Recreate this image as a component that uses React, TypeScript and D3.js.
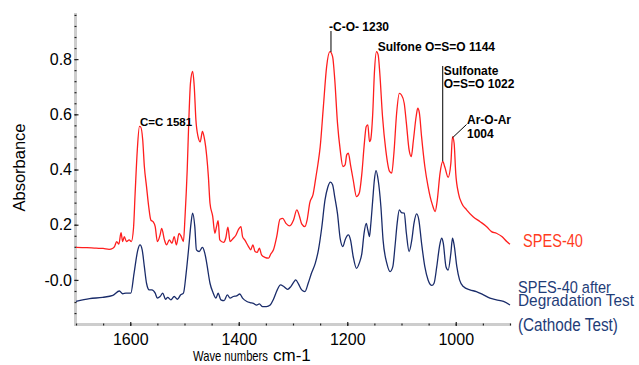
// FTIR spectra of SPES-40 before / after degradation, drawn with D3

import { useEffect, useRef } from 'react'
import * as d3 from 'd3'

const WIDTH = 639
const HEIGHT = 365

// SPES-40 (red)
const redWave = [
  1700, 1680, 1663, 1650, 1639, 1632, 1629, 1625, 1621, 1617, 1614, 1611, 1607, 1602, 1598, 1594, 1591, 1587, 1583, 1581,
  1577, 1574, 1570, 1566, 1562, 1558, 1554, 1550, 1545, 1542, 1537, 1533, 1528, 1523, 1519, 1515, 1510, 1506, 1502, 1499,
  1495, 1492, 1489, 1485, 1482, 1479, 1475, 1471, 1467, 1464, 1461, 1459, 1456, 1453, 1448, 1444, 1441, 1438, 1435, 1428,
  1424, 1420, 1416, 1410, 1405, 1401, 1396, 1393, 1389, 1382, 1378, 1374, 1370, 1366, 1362, 1358, 1352, 1345, 1341, 1336,
  1330, 1324, 1319, 1313, 1306, 1299, 1293, 1288, 1284, 1278, 1274, 1269, 1263, 1258, 1254, 1250, 1244, 1238, 1232, 1227,
  1223, 1218, 1213, 1208, 1204, 1201, 1198, 1194, 1189, 1183, 1178, 1173, 1169, 1165, 1162, 1159, 1157, 1153, 1150, 1146,
  1143, 1140, 1135, 1129, 1122, 1118, 1114, 1109, 1104, 1100, 1095, 1091, 1086, 1082, 1078, 1073, 1070, 1067, 1063, 1057,
  1051, 1047, 1043, 1038, 1034, 1029, 1024, 1020, 1014, 1009, 1006, 1003, 1000, 995, 989, 980, 968, 955, 943, 934,
  925, 915, 906, 900,
]
const redAbs = [
  0.118, 0.117, 0.115, 0.114, 0.111, 0.115, 0.121, 0.139, 0.13, 0.171, 0.139, 0.157, 0.139, 0.145, 0.139, 0.187, 0.314, 0.471, 0.556, 0.555,
  0.507, 0.411, 0.338, 0.266, 0.217, 0.211, 0.193, 0.139, 0.163, 0.187, 0.145, 0.127, 0.145, 0.133, 0.157, 0.127, 0.169, 0.157, 0.139, 0.23,
  0.399, 0.58, 0.713, 0.755, 0.7, 0.58, 0.519, 0.5, 0.538, 0.519, 0.483, 0.447, 0.375, 0.278, 0.23, 0.169, 0.193, 0.215, 0.145, 0.136,
  0.151, 0.191, 0.139, 0.151, 0.163, 0.181, 0.193, 0.157, 0.145, 0.121, 0.109, 0.127, 0.103, 0.1, 0.115, 0.091, 0.082, 0.079, 0.094, 0.109,
  0.157, 0.22, 0.223, 0.205, 0.196, 0.217, 0.254, 0.23, 0.203, 0.193, 0.217, 0.28, 0.31, 0.37, 0.42, 0.48, 0.628, 0.773, 0.827, 0.809,
  0.725, 0.568, 0.471, 0.411, 0.417, 0.453, 0.459, 0.417, 0.362, 0.302, 0.314, 0.387, 0.483, 0.556, 0.562, 0.501, 0.507, 0.604, 0.749, 0.827,
  0.815, 0.749, 0.592, 0.471, 0.393, 0.387, 0.459, 0.604, 0.676, 0.67, 0.64, 0.568, 0.471, 0.447, 0.507, 0.592, 0.622, 0.604, 0.519, 0.411,
  0.338, 0.3, 0.272, 0.248, 0.29, 0.386, 0.429, 0.408, 0.372, 0.423, 0.519, 0.495, 0.386, 0.314, 0.278, 0.254, 0.229, 0.211, 0.193, 0.175,
  0.169, 0.157, 0.139, 0.129,
]

// SPES-40 after degradation test (blue)
const blueWave = [
  1700, 1675, 1651, 1632, 1620, 1614, 1608, 1599, 1593, 1586, 1582, 1578, 1574, 1570, 1565, 1560, 1554, 1550, 1545, 1540,
  1535, 1531, 1525, 1519, 1513, 1507, 1502, 1497, 1492, 1488, 1485, 1481, 1478, 1473, 1467, 1463, 1460, 1458, 1453, 1447,
  1442, 1438, 1433, 1427, 1421, 1416, 1410, 1404, 1398, 1393, 1385, 1379, 1373, 1367, 1362, 1356, 1349, 1342, 1336, 1329,
  1323, 1317, 1310, 1304, 1298, 1295, 1290, 1284, 1278, 1272, 1266, 1259, 1253, 1247, 1241, 1236, 1231, 1227, 1223, 1218,
  1213, 1208, 1204, 1198, 1194, 1189, 1183, 1178, 1173, 1169, 1165, 1162, 1159, 1157, 1153, 1150, 1147, 1143, 1138, 1134,
  1127, 1121, 1116, 1112, 1108, 1104, 1100, 1095, 1091, 1086, 1081, 1077, 1072, 1068, 1063, 1057, 1051, 1044, 1040, 1035,
  1030, 1026, 1023, 1018, 1014, 1009, 1006, 1003, 998, 993, 986, 974, 962, 949, 937, 925, 912, 900,
]
const blueAbs = [
  -0.078, -0.068, -0.063, -0.056, -0.04, -0.05, -0.048, -0.048, 0.024, 0.109, 0.127, 0.109, 0.048, -0.012, -0.036, -0.036, -0.048, -0.066, -0.06, -0.048,
  -0.07, -0.063, -0.072, -0.06, -0.07, -0.054, -0.048, 0.024, 0.121, 0.205, 0.242, 0.193, 0.109, 0.103, 0.118, 0.1, 0.072, 0.048, -0.012, -0.048,
  -0.066, -0.048, -0.072, -0.075, -0.054, -0.066, -0.06, -0.058, -0.051, -0.066, -0.078, -0.082, -0.085, -0.091, -0.087, -0.097, -0.097, -0.091, -0.07, -0.036,
  -0.018, -0.024, -0.034, -0.024, -0.006, 0.0, -0.014, -0.036, -0.042, -0.012, 0.024, 0.06, 0.11, 0.19, 0.29, 0.335, 0.354, 0.345, 0.3, 0.24,
  0.15, 0.121, 0.145, 0.163, 0.145, 0.084, 0.042, 0.06, 0.097, 0.169, 0.205, 0.181, 0.157, 0.193, 0.29, 0.362, 0.396, 0.362, 0.266, 0.145,
  0.06, 0.03, 0.048, 0.121, 0.205, 0.254, 0.244, 0.242, 0.169, 0.103, 0.145, 0.205, 0.239, 0.217, 0.133, 0.048, 0.0, -0.02, -0.012, 0.048,
  0.121, 0.151, 0.133, 0.048, 0.036, 0.097, 0.151, 0.127, 0.048, 0.0, -0.024, -0.036, -0.042, -0.054, -0.066, -0.072, -0.078, -0.091,
]

const yMajor = [0, 0.2, 0.4, 0.6, 0.8]
const xMajor = [1600, 1400, 1200, 1000]

const SANS = '"Liberation Sans", Arial, Helvetica, sans-serif'

const draw = (el: SVGSVGElement) => {
  const svg = d3.select(el)
  svg.selectAll('*').remove()

  const x = d3.scaleLinear().domain([1700, 900]).range([76, 510])
  const y = d3.scaleLinear().domain([-0.156, 0.967]).range([323, 13])

  // Axis bars
  svg.append('line').attr('x1', 75.5).attr('x2', 75.5).attr('y1', 13).attr('y2', 325)
    .style('stroke', '#cdcdcd').style('stroke-width', 3)
  svg.append('line').attr('x1', 74).attr('x2', 511).attr('y1', 324.5).attr('y2', 324.5)
    .style('stroke', '#cdcdcd').style('stroke-width', 3)

  // Y ticks
  const yMinor = d3.range(-3, 25).map(k => +(k * 0.04).toFixed(2))
  svg.append('g').attr('transform', 'translate(74.5,0)')
    .call(d3.axisRight(y).tickValues(yMinor).tickSize(2).tickFormat(() => ''))
  svg.append('g').attr('transform', 'translate(74.5,0)')
    .call(d3.axisRight(y).tickValues(yMajor).tickSize(4).tickFormat(() => ''))
  const yLabels = svg.append('g').attr('transform', 'translate(75,0)')
    .call(d3.axisLeft(y).tickValues(yMajor).tickSize(0).tickPadding(3)
      .tickFormat(d => (+d === 0 ? '-0.0' : d3.format('.1f')(+d))))
  yLabels.selectAll('text').style('font-family', SANS).style('font-size', '16px').style('fill', '#000')

  // X ticks
  const xMinor = d3.range(900, 1701, 50)
  svg.append('g').attr('transform', 'translate(0,325.5)')
    .call(d3.axisTop(x).tickValues(xMinor).tickSize(2).tickFormat(() => ''))
  svg.append('g').attr('transform', 'translate(0,326)')
    .call(d3.axisTop(x).tickValues(xMajor).tickSize(4).tickFormat(() => ''))
  const xLabels = svg.append('g').attr('transform', 'translate(0,324)')
    .call(d3.axisBottom(x).tickValues(xMajor).tickSize(0).tickFormat(d3.format('d')))
  xLabels.selectAll('text').attr('y', 21).attr('dy', 0)
    .style('font-family', SANS).style('font-size', '16px').style('fill', '#000')

  svg.selectAll('.domain').remove()
  svg.selectAll('.tick line').style('stroke', '#222').style('stroke-width', 1.2)

  // Spectra
  const line = (wave: number[], abs: number[]) =>
    d3.line<number>().x(i => x(wave[i])).y(i => y(abs[i])).curve(d3.curveMonotoneX)(d3.range(wave.length))

  svg.append('path').attr('d', line(redWave, redAbs)).style('fill', 'none')
    .style('stroke', '#ff1e1e').style('stroke-width', 1.3)
  svg.append('path').attr('d', line(blueWave, blueAbs)).style('fill', 'none')
    .style('stroke', '#1a2c6a').style('stroke-width', 1.3)

  // Axis titles
  svg.append('text').attr('transform', 'translate(25,167.5) rotate(-90)')
    .attr('text-anchor', 'middle').style('font-family', SANS).style('font-size', '16.5px')
    .text('Absorbance')
  // narrow face is not installed: squeeze the regular one to the measured width
  const squeezed = (parent, tx: number, ty: number, len: number, size: number, txt: string) => {
    const t = parent.append('text').style('font-family', SANS).style('font-size', `${size}px`).text(txt)
    const natural = (t.node() as SVGTextElement).getComputedTextLength() || len
    t.attr('transform', `translate(${tx},${ty}) scale(${len / natural},1)`)
    return t
  }
  squeezed(svg, 193, 361, 75, 14, 'Wave numbers')
  svg.append('text').attr('x', 273).attr('y', 361).style('font-family', SANS)
    .style('font-size', '17px').text('cm-1')

  // Peak annotations
  const ann = svg.append('g').style('font-family', SANS).style('font-size', '12px')
    .style('font-weight', 'bold').style('fill', '#000')
  ann.append('text').attr('x', x(1581) - 0.5).attr('y', 126).style('font-size', '11.5px').text('C=C 1581')

  ann.append('line').attr('x1', x(1230)).attr('x2', x(1230)).attr('y1', 31).attr('y2', y(0.826))
    .style('stroke', '#000').style('stroke-width', 1)
  ann.append('text').attr('x', x(1230) - 2).attr('y', 30.5).text('-C-O- 1230')

  ann.append('text').attr('x', x(1144)).attr('y', 50.5).text('Sulfone O=S=O 1144')

  ann.append('line').attr('x1', x(1024)).attr('x2', x(1024)).attr('y1', 66).attr('y2', y(0.43))
    .style('stroke', '#000').style('stroke-width', 1)
  ann.append('text').attr('x', x(1024) + 1).attr('y', 75).text('Sulfonate')
  ann.append('text').attr('x', x(1024) + 1).attr('y', 87.5).text('O=S=O 1022')

  ann.append('line').attr('x1', x(1006)).attr('y1', y(0.515)).attr('x2', 466.5).attr('y2', 124.5)
    .style('stroke', '#000').style('stroke-width', 1)
  ann.append('text').attr('x', 467).attr('y', 123.5).text('Ar-O-Ar')
  ann.append('text').attr('x', 467).attr('y', 137.5).text('1004')

  // Series labels
  squeezed(svg, 523, 246.5, 60, 17.5, 'SPES-40').style('fill', '#ff3c1e')
  const blueLabel = svg.append('g').style('fill', '#1f3d78')
  squeezed(blueLabel, 518, 292.5, 93, 17, 'SPES-40 after')
  squeezed(blueLabel, 518, 305.5, 116, 17, 'Degradation Test')
  squeezed(blueLabel, 518, 330.5, 100, 17.5, '(Cathode Test)')
}

export default function App() {
  const ref = useRef<SVGSVGElement>(null)

  useEffect(() => {
    if (ref.current) draw(ref.current)
  }, [])

  return (
    <svg
      ref={ref}
      width={WIDTH}
      height={HEIGHT}
      style={{ position: 'absolute', left: 0, top: 0, background: '#fff' }}
    />
  )
}
